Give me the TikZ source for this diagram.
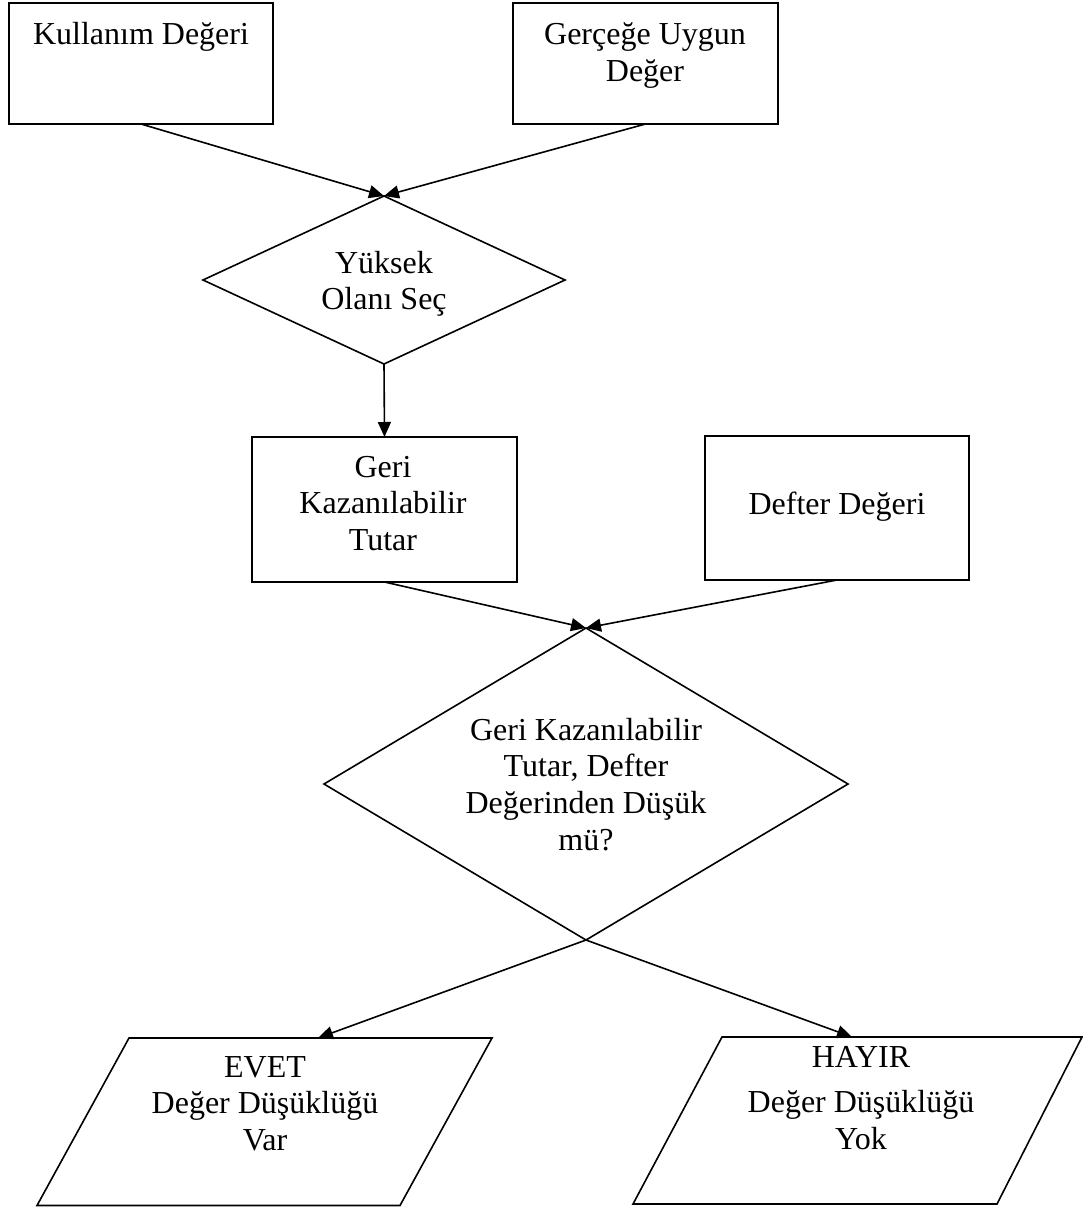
\documentclass[tikz,border=0pt]{standalone}
\usepackage{fontspec}
\setmainfont{Liberation Serif}
\usetikzlibrary{arrows.meta,shapes.geometric}
\newcommand\mylines[1]{\begin{tabular}[t]{@{}c@{}}#1\end{tabular}}
\begin{document}
\begin{tikzpicture}[x=1pt,y=-1pt,
  every node/.style={inner sep=0pt, outer sep=0pt},
  box/.style={draw, line width=1.6pt, rectangle},
  dec/.style={draw, line width=1.6pt, diamond},
  lbl/.style={anchor=base, font=\fontsize{32}{36.7}\selectfont},
  conn/.style={line width=1.6pt, -{Triangle[length=15pt,width=13pt]}},
  shp/.style={draw, line width=1.6pt, line join=miter}
]
\useasboundingbox (0,0) rectangle (1083,1207);

% shapes
\node[box, minimum width=264pt, minimum height=121pt] (b1) at (141,63.5) {};
\node[box, minimum width=265pt, minimum height=121pt] (b2) at (645.5,63.5) {};
\node[dec, minimum width=362pt, minimum height=168pt] (d1) at (384,280) {};
\node[box, minimum width=265pt, minimum height=145pt] (b3) at (384.5,509.5) {};
\node[box, minimum width=264pt, minimum height=144pt] (b4) at (837,508) {};
\node[dec, minimum width=524pt, minimum height=312pt] (d2) at (586,784) {};

\draw[shp] (129,1038) -- (492,1038) -- (400,1205.5) -- (37,1205.5) -- cycle;
\draw[shp] (722,1037) -- (1082,1037) -- (997,1204) -- (633,1204) -- cycle;
\coordinate (e1) at (318,1038);
\coordinate (e2) at (852,1037);

% texts
\node[lbl] (t1) at (141,45) {\mylines{Kullanım Değeri}};
\node[lbl] (t2) at (645,45) {\mylines{Gerçeğe Uygun\\ Değer}};
\node[lbl] (t3) at (384,273) {\mylines{Yüksek\\ Olanı Seç}};
\node[lbl] (t4) at (383,477) {\mylines{Geri\\ Kazanılabilir\\ Tutar}};
\node[lbl] (t5) at (837,514) {\mylines{Defter Değeri}};
\node[lbl] (t6) at (586,740) {\mylines{Geri Kazanılabilir\\ Tutar, Defter\\ Değerinden Düşük\\ mü?}};
\node[lbl] (t7) at (265,1077) {\mylines{EVET\\ Değer Düşüklüğü\\ Var}};
\node[lbl] (t8) at (861,1067) {\mylines{HAYIR\\[9pt] Değer Düşüklüğü\\ Yok}};

% connectors
\draw[conn] (b1.south) -- (d1.north);
\draw[conn] (b2.south) -- (d1.north);
\draw[conn] (d1.south) -- (b3.north);
\draw[conn] (b3.south) -- (d2.north);
\draw[conn] (b4.south) -- (d2.north);
\draw[conn] (d2.south) -- (e1);
\draw[conn] (d2.south) -- (e2);
\end{tikzpicture}
\end{document}
